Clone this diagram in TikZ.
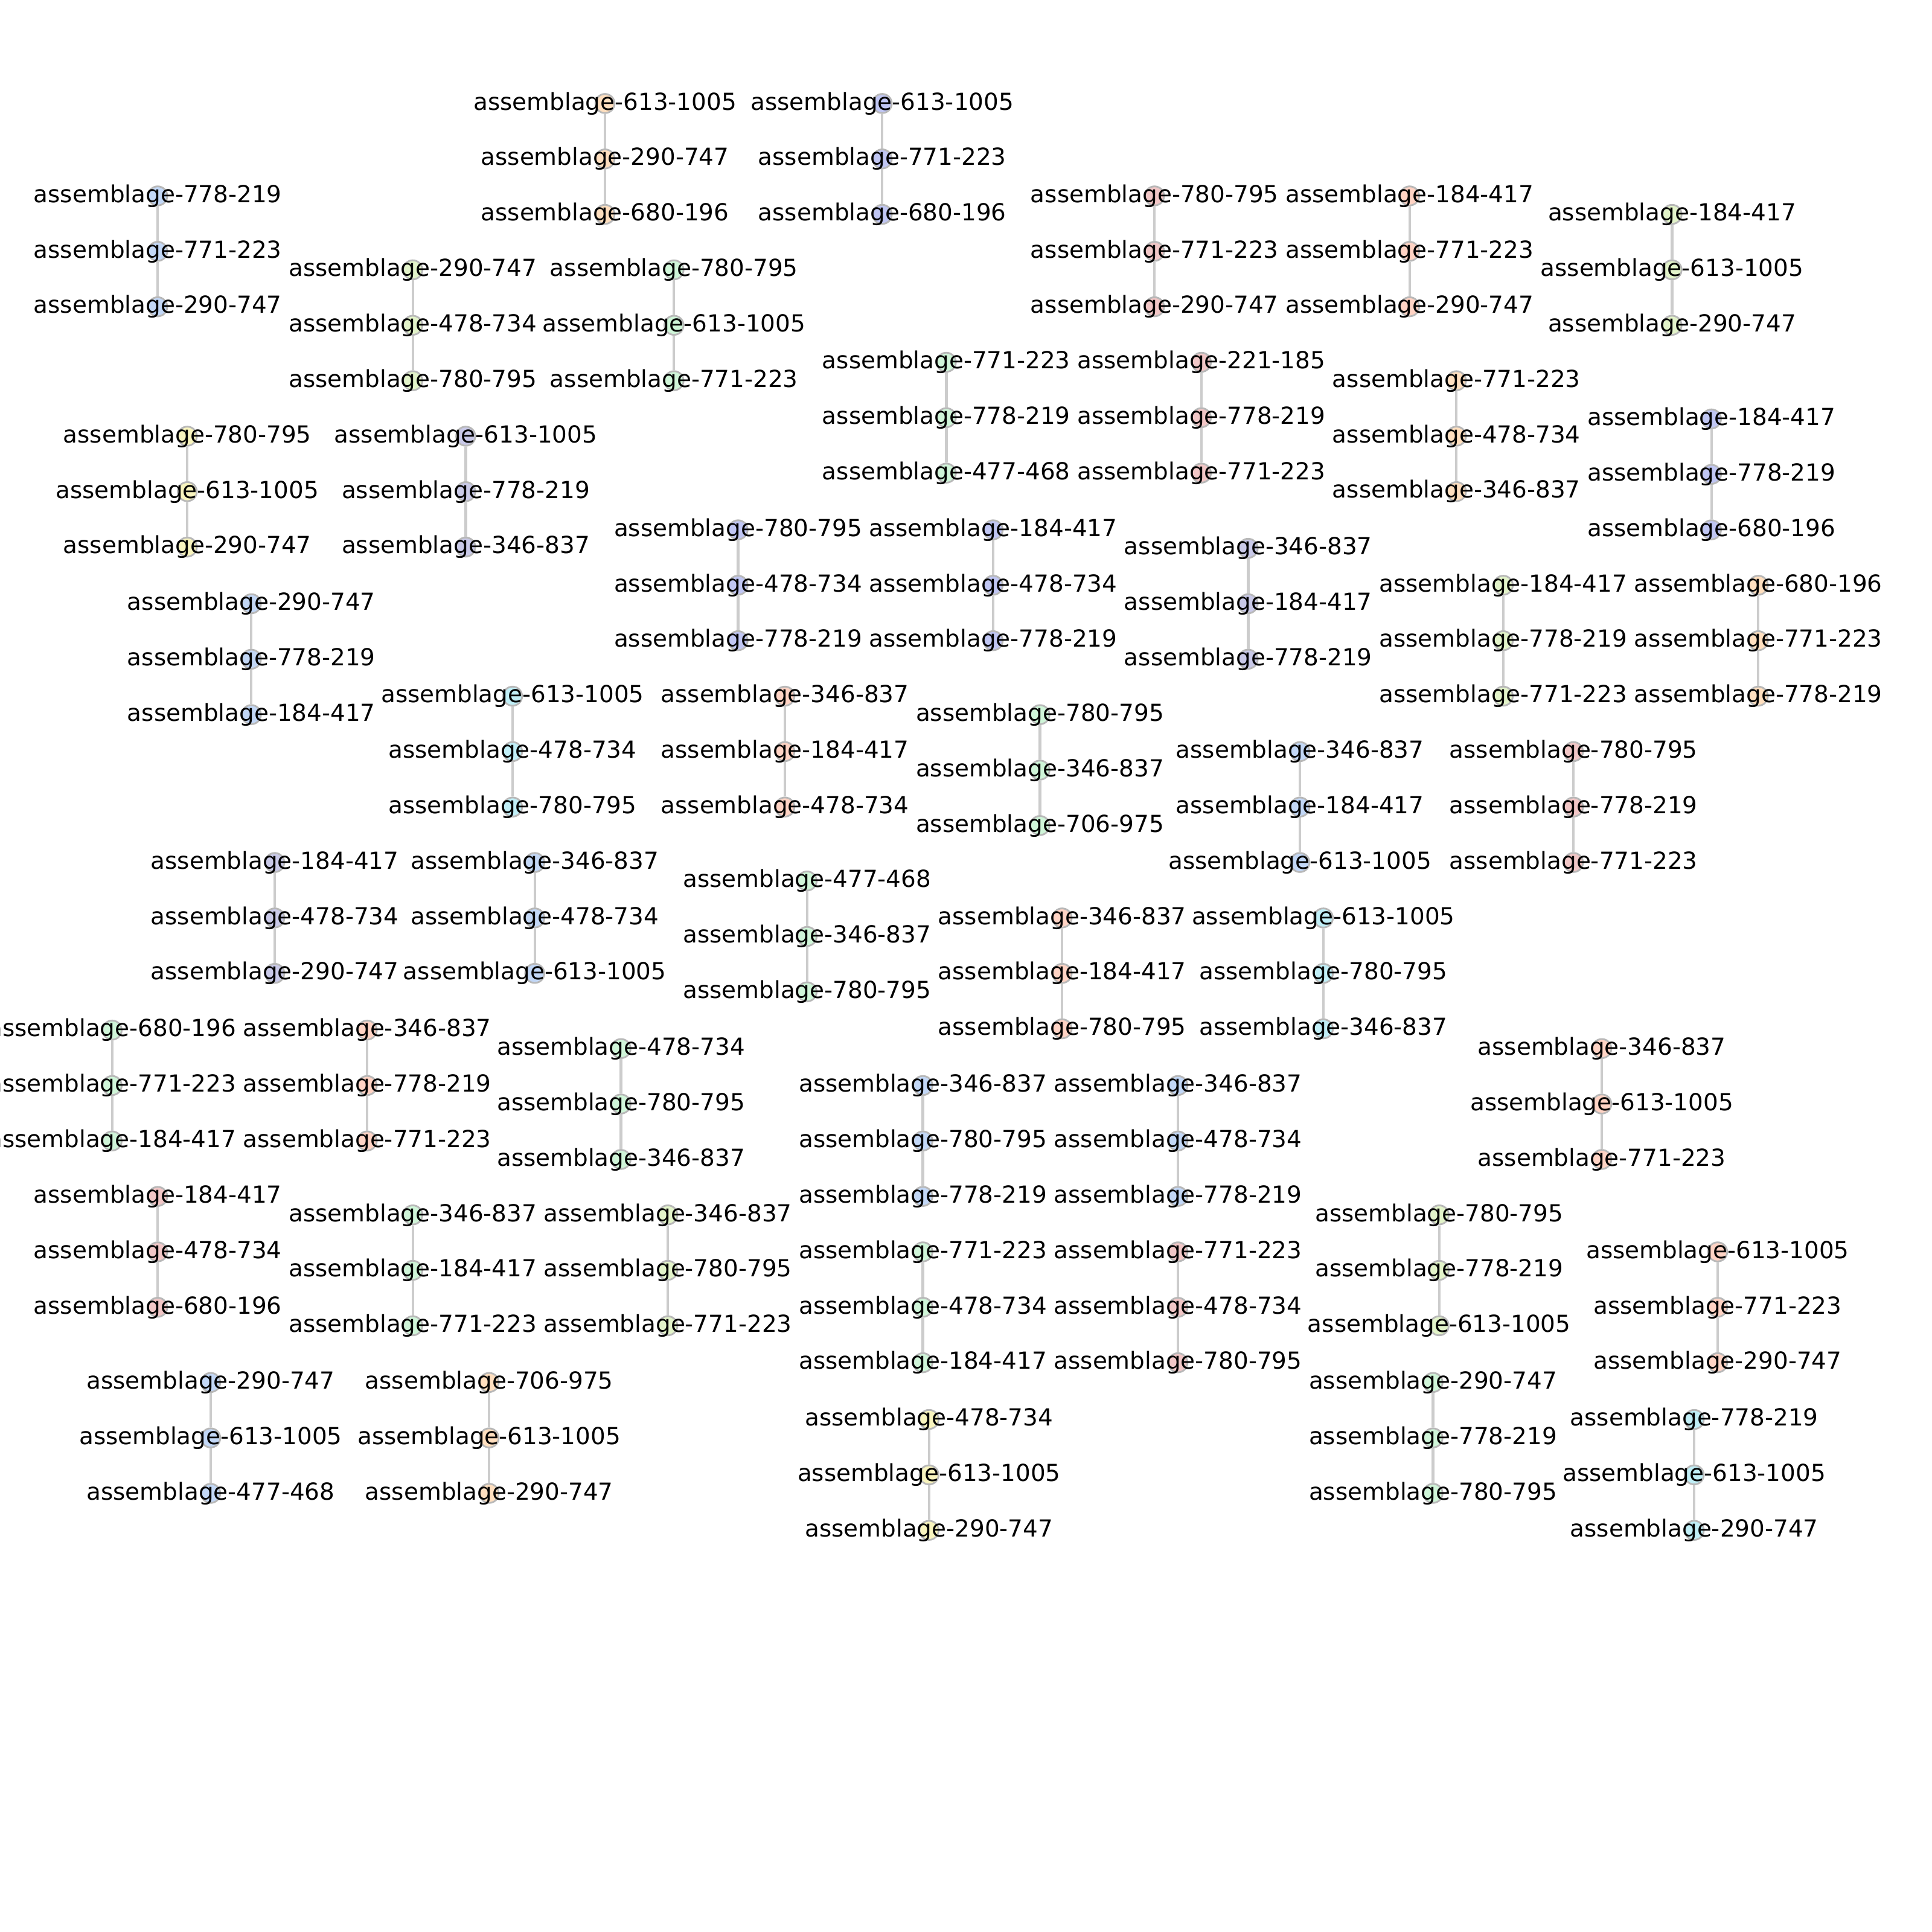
\documentclass[tikz,border=0pt]{standalone}
\usepackage{fontspec}
\setmainfont{DejaVu Sans}
\usepackage{tikz}
\usetikzlibrary{positioning}
\definecolor{cOra}{HTML}{FFDFBF}
\definecolor{cPer}{HTML}{C0C6F3}
\definecolor{cGrn}{HTML}{CFF5D8}
\definecolor{cPnk}{HTML}{F1C6C6}
\definecolor{cSal}{HTML}{FFD3C4}
\definecolor{cYgr}{HTML}{E2F3C9}
\definecolor{cYel}{HTML}{F8F4BE}
\definecolor{cLav}{HTML}{C9C9E8}
\definecolor{cLbl}{HTML}{C2D7F6}
\definecolor{cCya}{HTML}{C0EEF6}
\definecolor{cEdge}{HTML}{CCCCCC}
\tikzstyle{dot} = [circle, minimum size=0.31cm, inner sep=0pt, draw=black!28, line width=0.8pt]
\tikzstyle{link} = [cEdge, line width=1.2pt]
\tikzstyle{lbl} = [inner sep=0pt, font=\fontsize{10.85}{12}\selectfont]
% one chain of three assemblages: name, x, y, colour, labels
\newcommand{\assemchain}[7]{
	\node[dot, fill=#4] (#1a) at (#2,-#3) {};
	\node[dot, fill=#4, on grid, below=0.9cm of #1a] (#1b) {};
	\node[dot, fill=#4, on grid, below=0.9cm of #1b] (#1c) {};
	\draw[link] (#1a) -- (#1b) -- (#1c);
	\node[lbl] (#1at) at (#1a) {assemblage-#5};
	\node[lbl] (#1bt) at (#1b) {assemblage-#6};
	\node[lbl] (#1ct) at (#1c) {assemblage-#7};
}

\begin{document}
\begin{tikzpicture}[x=0.02cm, y=0.02cm]
	\useasboundingbox (-1,2) rectangle (1567,-1566);
	\assemchain{n1}{490}{82}{cOra}{613-1005}{290-747}{680-196}
	\assemchain{n2}{715}{82}{cPer}{613-1005}{771-223}{680-196}
	\assemchain{n3}{127}{157}{cLbl}{778-219}{771-223}{290-747}
	\assemchain{n4}{936}{157}{cPnk}{780-795}{771-223}{290-747}
	\assemchain{n5}{1143}{157}{cSal}{184-417}{771-223}{290-747}
	\assemchain{n6}{1356}{172}{cYgr}{184-417}{613-1005}{290-747}
	\assemchain{n7}{334}{217}{cYgr}{290-747}{478-734}{780-795}
	\assemchain{n8}{546}{217}{cGrn}{780-795}{613-1005}{771-223}
	\assemchain{n9}{767}{292}{cGrn}{771-223}{778-219}{477-468}
	\assemchain{n10}{974}{292}{cPnk}{221-185}{778-219}{771-223}
	\assemchain{n11}{1181}{307}{cOra}{771-223}{478-734}{346-837}
	\assemchain{n12}{1388}{338}{cPer}{184-417}{778-219}{680-196}
	\assemchain{n13}{151}{352}{cYel}{780-795}{613-1005}{290-747}
	\assemchain{n14}{377}{352}{cLav}{613-1005}{778-219}{346-837}
	\assemchain{n15}{598}{428}{cPer}{780-795}{478-734}{778-219}
	\assemchain{n16}{805}{428}{cPer}{184-417}{478-734}{778-219}
	\assemchain{n17}{1012}{443}{cLav}{346-837}{184-417}{778-219}
	\assemchain{n18}{1219}{473}{cYgr}{184-417}{778-219}{771-223}
	\assemchain{n19}{1426}{473}{cOra}{680-196}{771-223}{778-219}
	\assemchain{n20}{203}{488}{cLbl}{290-747}{778-219}{184-417}
	\assemchain{n21}{415}{563}{cCya}{613-1005}{478-734}{780-795}
	\assemchain{n22}{636}{563}{cSal}{346-837}{184-417}{478-734}
	\assemchain{n23}{843}{578}{cGrn}{780-795}{346-837}{706-975}
	\assemchain{n24}{1054}{608}{cLbl}{346-837}{184-417}{613-1005}
	\assemchain{n25}{1276}{608}{cPnk}{780-795}{778-219}{771-223}
	\assemchain{n26}{222}{698}{cLav}{184-417}{478-734}{290-747}
	\assemchain{n27}{433}{698}{cLbl}{346-837}{478-734}{613-1005}
	\assemchain{n28}{654}{713}{cGrn}{477-468}{346-837}{780-795}
	\assemchain{n29}{861}{743}{cSal}{346-837}{184-417}{780-795}
	\assemchain{n30}{1073}{743}{cCya}{613-1005}{780-795}{346-837}
	\assemchain{n31}{90}{834}{cGrn}{680-196}{771-223}{184-417}
	\assemchain{n32}{297}{834}{cSal}{346-837}{778-219}{771-223}
	\assemchain{n33}{503}{849}{cGrn}{478-734}{780-795}{346-837}
	\assemchain{n34}{1299}{849}{cSal}{346-837}{613-1005}{771-223}
	\assemchain{n35}{748}{879}{cLbl}{346-837}{780-795}{778-219}
	\assemchain{n36}{955}{879}{cLbl}{346-837}{478-734}{778-219}
	\assemchain{n37}{127}{969}{cPnk}{184-417}{478-734}{680-196}
	\assemchain{n38}{334}{984}{cGrn}{346-837}{184-417}{771-223}
	\assemchain{n39}{541}{984}{cYgr}{346-837}{780-795}{771-223}
	\assemchain{n40}{1167}{984}{cYgr}{780-795}{778-219}{613-1005}
	\assemchain{n41}{748}{1014}{cGrn}{771-223}{478-734}{184-417}
	\assemchain{n42}{955}{1014}{cPnk}{771-223}{478-734}{780-795}
	\assemchain{n43}{1393}{1014}{cSal}{613-1005}{771-223}{290-747}
	\assemchain{n44}{170}{1120}{cLbl}{290-747}{613-1005}{477-468}
	\assemchain{n45}{396}{1120}{cOra}{706-975}{613-1005}{290-747}
	\assemchain{n46}{1162}{1120}{cGrn}{290-747}{778-219}{780-795}
	\assemchain{n47}{753}{1150}{cYel}{478-734}{613-1005}{290-747}
	\assemchain{n48}{1374}{1150}{cCya}{778-219}{613-1005}{290-747}
\end{tikzpicture}
\end{document}
